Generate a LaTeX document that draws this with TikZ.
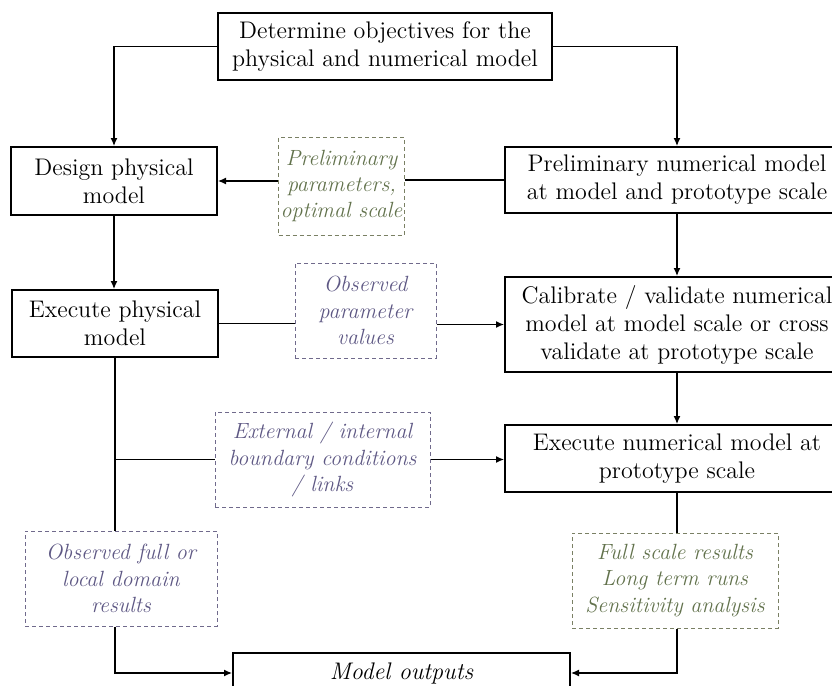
\documentclass[tikz,border=0pt]{standalone}
\usetikzlibrary{arrows.meta}
\definecolor{notegreen}{RGB}{98,114,76}
\definecolor{notegreenline}{RGB}{122,128,100}
\definecolor{notepurple}{RGB}{94,88,132}
\definecolor{notepurpleline}{RGB}{112,106,140}
\tikzset{
  procbox/.style={draw, line width=1pt, align=center, inner sep=1pt,
    font=\fontsize{12}{14}\selectfont},
  notebox/.style={draw, line width=.5pt, dash pattern=on 2pt off 1.5pt,
    align=center, inner sep=1pt, font=\fontsize{11}{13.2}\selectfont\itshape},
  greennote/.style={notebox, draw=notegreenline, text=notegreen},
  purplenote/.style={notebox, draw=notepurpleline, text=notepurple},
  arr/.style={-{Latex[length=4pt,width=3.5pt]}},
  link/.style={line width=.6pt}
}
\begin{document}
\begin{tikzpicture}[x=.5pt,y=-.5pt]
\clip (0,0) rectangle (832,686);
\node[procbox, minimum width=167pt, minimum height=33.5pt] (top) at (385,46.5) {Determine objectives for the\\physical and numerical model};
\node[procbox, minimum width=103pt, minimum height=34pt] (design) at (114,181) {Design physical\\model};
\node[greennote, minimum width=58.5pt, minimum height=49pt] (prelim) at (341.5,186) {Preliminary\\parameters,\\optimal scale};
\node[procbox, minimum width=172pt, minimum height=33pt] (prelimnum) at (677,180) {Preliminary numerical model\\at model and prototype scale};
\node[procbox, minimum width=103pt, minimum height=33.5pt] (execphys) at (115,323.5) {Execute physical\\model};
\node[purplenote, minimum width=70.5pt, minimum height=47.5pt] (obspar) at (365.5,310.5) {Observed\\parameter\\values};
\node[procbox, minimum width=172pt, minimum height=47.5pt] (calib) at (677,324.5) {Calibrate / validate numerical\\model at model scale or cross\\validate at prototype scale};
\node[procbox, minimum width=172pt, minimum height=33.5pt] (execnum) at (677,458.5) {Execute numerical model at\\prototype scale};
\node[purplenote, minimum width=107.5pt, minimum height=47.5pt] (extbc) at (322.5,459.5) {External / internal\\boundary conditions\\/ links};
\node[purplenote, minimum width=96pt, minimum height=47.5pt] (obsfull) at (121,578.5) {Observed full or\\local domain\\results};
\node[greennote, minimum width=103pt, minimum height=47.5pt] (fullres) at (675,580.5) {Full scale results\\Long term runs\\Sensitivity analysis};
\node[procbox, minimum width=168.5pt, minimum height=20pt, font=\fontsize{12}{14}\selectfont\itshape] (outputs) at (401.5,673) {Model outputs};
\draw[link, arr] (top.west) -| (design.north);
\draw[link, arr] (top.east) -| (prelimnum.north);
\draw[link, arr] (prelim.west |- design.east) -- (design.east);
\draw[link] (prelim.east |- prelimnum.west) -- (prelimnum.west);
\draw[link, arr] (design.south) -- (design.south |- execphys.north);
\draw[link, arr] (prelimnum.south) -- (calib.north);
\draw[link] (execphys.east) -- (obspar.west |- execphys.east);
\draw[link, arr] (obspar.east |- calib.west) -- (calib.west);
\draw[link, arr] (calib.south) -- (execnum.north);
\draw[link] (execphys.south) -- (execphys.south |- obsfull.north);
\coordinate (bcjoin) at (execphys.south |- extbc.west);
\draw[link] (bcjoin) -- (extbc.west);
\draw[link, arr] (extbc.east) -- (execnum.west |- extbc.east);
\draw[link] (execnum.south) -- (execnum.south |- fullres.north);
\draw[link, arr] (execphys.south |- obsfull.south) |- (outputs.west);
\draw[link, arr] (execnum.south |- fullres.south) |- (outputs.east);
\end{tikzpicture}
\end{document}
